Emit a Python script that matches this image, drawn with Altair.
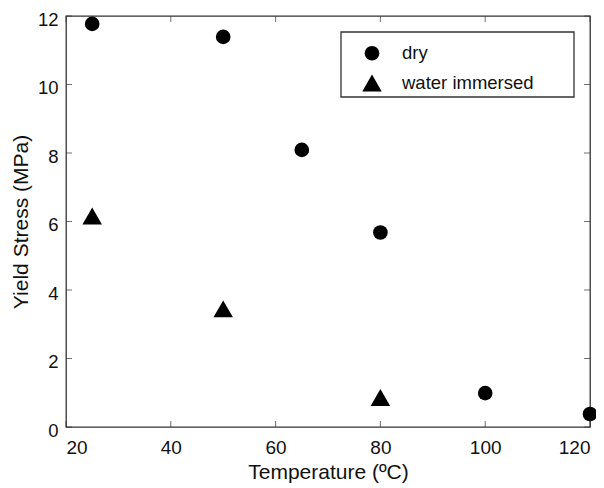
import altair as alt
import pandas as pd

dry_temp = [25, 50, 65, 80, 100, 120]
dry_stress = [11.77, 11.39, 8.09, 5.68, 0.99, 0.38]
wet_temp = [25, 50, 80]
wet_stress = [6.16, 3.45, 0.86]
x_ticks = [20, 40, 60, 80, 100, 120]
y_ticks = [0, 2, 4, 6, 8, 10, 12]
series = ["dry", "water immersed"]

W, H = 524, 411
FONT = "Liberation Sans"

df = pd.DataFrame({
    "t": dry_temp + wet_temp,
    "s": dry_stress + wet_stress,
    "cond": [series[0]] * len(dry_temp) + [series[1]] * len(wet_temp),
})
xt = pd.DataFrame({"x": x_ticks})
yt = pd.DataFrame({"y": y_ticks})

xs = alt.Scale(domain=[20, 120], nice=False, zero=False)
ys = alt.Scale(domain=[0, 12], nice=False)

leg = alt.Legend(title=None, orient="none", legendX=296, legendY=28,
                 padding=0, symbolOffset=0, labelOffset=20, rowPadding=10,
                 symbolFillColor="black", symbolStrokeColor="black", symbolStrokeWidth=0,
                 labelFontSize=18.5, labelFont=FONT, labelColor="#111")

points = alt.Chart(df).mark_point(filled=True, color="black", opacity=1).encode(
    x=alt.X("t:Q", scale=xs, title="Temperature (ºC)",
            axis=alt.Axis(values=x_ticks, ticks=False, domain=False, grid=False,
                          labelPadding=11, titlePadding=4)),
    y=alt.Y("s:Q", scale=ys, title="Yield Stress (MPa)",
            axis=alt.Axis(values=y_ticks, ticks=False, domain=False, grid=False,
                          labelPadding=8, labelOffset=3, labelFontSize=18.5,
                          titlePadding=6)),
    shape=alt.Shape("cond:N", scale=alt.Scale(domain=series, range=["circle", "triangle-up"]),
                    legend=leg),
    size=alt.Size("cond:N", scale=alt.Scale(domain=series, range=[215, 380]), legend=leg),
)

# legend frame
frame = alt.Chart(pd.DataFrame({"k": [0]})).mark_rect(
    fill="white", stroke="#333", strokeWidth=1.3
).encode(x=alt.value(275), x2=alt.value(508), y=alt.value(16), y2=alt.value(81))

tick_style = dict(color="#333", thickness=1, size=6)
bx = alt.Chart(xt).mark_tick(**tick_style).encode(x=alt.X("x:Q", scale=xs), y=alt.value(H - 3))
tx = alt.Chart(xt).mark_tick(**tick_style).encode(x=alt.X("x:Q", scale=xs), y=alt.value(3))
ly = alt.Chart(yt).mark_tick(**tick_style).encode(y=alt.Y("y:Q", scale=ys), x=alt.value(3))
ry = alt.Chart(yt).mark_tick(**tick_style).encode(y=alt.Y("y:Q", scale=ys), x=alt.value(W - 3))

chart = alt.layer(bx, tx, ly, ry, frame, points).properties(
    width=W, height=H,
    autosize=alt.AutoSizeParams(type="none"),
    padding={"left": 58, "top": 8, "right": 6, "bottom": 61},
).configure_view(stroke="#333", strokeWidth=1.3).configure_axis(
    labelFont=FONT, titleFont=FONT, labelFontSize=19, titleFontSize=21,
    labelColor="#111", titleColor="#111", titleFontWeight="normal",
)

chart.save("out.html", embed_options={"renderer": "svg", "actions": False})
